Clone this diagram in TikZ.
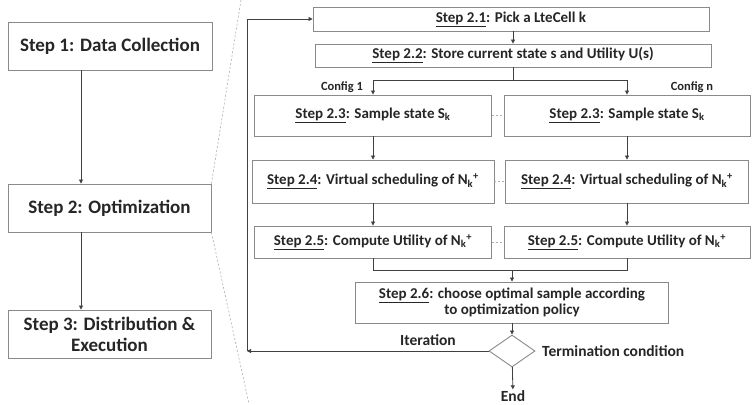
\documentclass[tikz,border=0pt]{standalone}
\usepackage{fontspec}
\setmainfont{Carlito}
\usetikzlibrary{arrows.meta,shapes.geometric}
\definecolor{boxgray}{HTML}{8A8A8A}
\definecolor{linegray}{HTML}{404040}
\definecolor{txt}{HTML}{262626}
\tikzset{
  bigbox/.style={draw=boxgray,line width=0.9pt,fill=white,minimum height=48pt,inner sep=2pt,align=center,font=\fontsize{19}{21}\selectfont\bfseries,text=txt},
  stepbox/.style={draw=boxgray,line width=0.9pt,fill=white,inner sep=2pt,align=center,font=\fontsize{15}{16.5}\selectfont\bfseries,text=txt},
  arr/.style={draw=linegray,line width=0.8pt,-{Triangle[width=4pt,length=4pt]}},
  ln/.style={draw=linegray,line width=0.8pt},
  dotl/.style={draw=boxgray!70,line width=0.6pt,dashed,dash pattern=on 2pt off 2pt},
  lbl/.style={font=\fontsize{12.5}{14}\selectfont\bfseries,text=txt,inner sep=1pt},
  lblb/.style={font=\fontsize{15.5}{17}\selectfont\bfseries,text=txt,inner sep=1pt}
}
\newcommand{\stp}[1]{\underline{#1}}
\newcommand{\Nkp}{N\textsubscript{k}\textsuperscript{+}}
\begin{document}
\begin{tikzpicture}[x=1pt,y=-1pt]
\useasboundingbox[fill=white] (0,0) rectangle (754,404);
% left panel
\node[bigbox,minimum width=204pt] (s1) at (110,46) {Step 1: Data Collection};
\node[bigbox,minimum width=203pt] (s2) at (109.5,208) {Step 2: Optimization};
\node[bigbox,minimum width=203pt] (s3) at (109.5,334) {Step 3: Distribution \&\\Execution};
\coordinate (lx) at (81,0);
\draw[arr] (s1.south -| lx) -- (s2.north -| lx);
\draw[arr] (s2.south -| lx) -- (s3.north -| lx);
\coordinate (zt) at (241,0);
\coordinate (zb) at (249,404);
\draw[dotl] (s2.north east) -- (zt);
\draw[dotl] (s2.south east) -- (zb);
% right panel
\node[stepbox,minimum width=396pt,minimum height=24pt] (s21) at (511,19) {\stp{Step 2.1}: Pick a LteCell k};
\node[stepbox,minimum width=396pt,minimum height=23pt] (s22) at (513,55.5) {\stp{Step 2.2}: Store current state s and Utility U(s)};
\node[stepbox,minimum width=237pt,minimum height=41pt] (s23a) at (373,115.5) {\stp{Step 2.3}: Sample state S\textsubscript{k}};
\node[stepbox,minimum width=246pt,minimum height=41pt] (s23b) at (627,115.5) {\stp{Step 2.3}: Sample state S\textsubscript{k}};
\node[stepbox,minimum width=242pt,minimum height=43pt] (s24a) at (373,181.5) {\stp{Step 2.4}: Virtual\ scheduling of \Nkp};
\node[stepbox,minimum width=243pt,minimum height=43pt] (s24b) at (627,181.5) {\stp{Step 2.4}: Virtual\ scheduling of \Nkp};
\node[stepbox,minimum width=237pt,minimum height=32pt] (s25a) at (373,242) {\stp{Step 2.5}: Compute\ Utility of \Nkp};
\node[stepbox,minimum width=246pt,minimum height=32pt] (s25b) at (627,242) {\stp{Step 2.5}: Compute\ Utility of \Nkp};
\node[stepbox,minimum width=313pt,minimum height=41pt] (s26) at (512,302.5) {\stp{Step 2.6}: choose optimal sample according\\to optimization policy};
\node[diamond,draw=boxgray,line width=0.9pt,minimum width=46pt,minimum height=32pt,inner sep=0pt,aspect=1.4] (d) at (512,351) {};
\node[lblb] (end) at (513,396) {End};
\node[lblb,anchor=west] (tc) at (541,351) {Termination condition};
\node[lblb] (it) at (428,340) {Iteration};
\node[lbl] (c1) at (342,87) {Config 1};
\node[lbl] (cn) at (692,87) {Config n};
% connectors
\draw[arr] (s21.south -| s22.south) -- (s22.north);
\coordinate (br) at (513,80);
\draw[ln] (s22.south) -- (br);
\draw[arr] (br) -| (s23a.north);
\draw[arr] (br) -| (s23b.north);
\draw[arr] (s23a) -- (s24a);
\draw[arr] (s23b) -- (s24b);
\draw[arr] (s24a) -- (s25a);
\draw[arr] (s24b) -- (s25b);
\coordinate (mg) at (512,270);
\draw[ln] (s25a.south) |- (mg);
\draw[ln] (s25b.south) |- (mg);
\draw[arr] (mg) -- (s26.north);
\draw[arr] (s26) -- (d);
\draw[arr] (d) -- (end);
\coordinate (fb) at (247,351);
\draw[arr] (d.west) -- (fb);
\draw[arr] (fb) |- (s21.west);
\draw[dotl] (s23a) -- (s23b);
\draw[dotl] (s24a) -- (s24b);
\draw[dotl] (s25a) -- (s25b);
\end{tikzpicture}
\end{document}
